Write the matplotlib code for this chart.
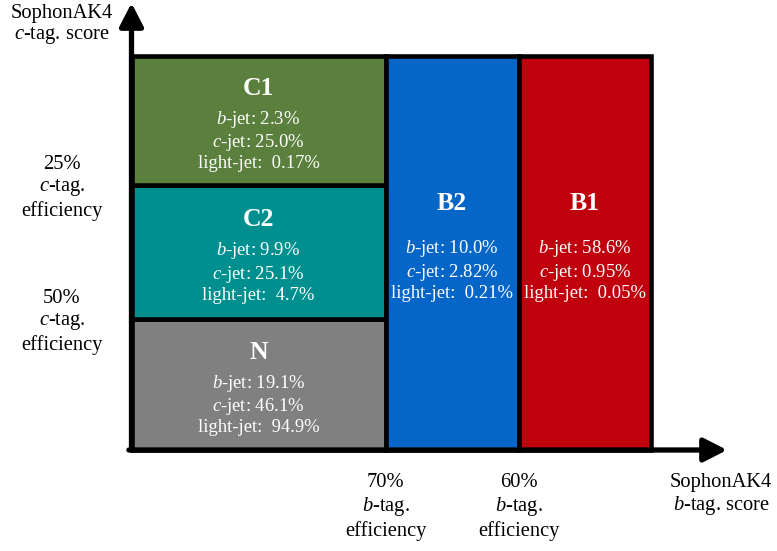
import matplotlib
matplotlib.use("Agg")
import matplotlib.pyplot as plt
import matplotlib.transforms as mtransforms
from matplotlib.patches import Rectangle

plt.rcParams['font.family'] = ['Liberation Serif', 'DejaVu Serif']
plt.rcParams['mathtext.fontset'] = 'custom'
plt.rcParams['mathtext.rm'] = 'Liberation Serif'
plt.rcParams['mathtext.it'] = 'Liberation Serif:italic'

# working-point thresholds (schematic, in fraction of score range)
b_cuts = [0.0, 0.489, 0.745, 1.0]      # 70% WP, 60% WP
c_cuts = [0.0, 0.3325, 0.6726, 1.0]    # 50% WP, 25% WP
b_cut_labels = ['70%', '60%']
c_cut_labels = ['50%', '25%']

# categories in the c-tag column (bottom to top), then b-tag columns
c_cats = ['N', 'C2', 'C1']
c_bjet = ['19.1%', '9.9%', '2.3%']
c_cjet = ['46.1%', '25.1%', '25.0%']
c_ljet = ['94.9%', '4.7%', '0.17%']
c_colors = ['#808080', '#008f8f', '#5b7f3c']

b_cats = ['B2', 'B1']
b_bjet = ['10.0%', '58.6%']
b_cjet = ['2.82%', '0.95%']
b_ljet = ['0.21%', '0.05%']
b_colors = ['#0566c8', '#c0000c']

W, H = 777, 551
fig = plt.figure(figsize=(W / 100, H / 100), dpi=100)
# axes origin at the arrows' corner, box spans [0,1]x[0,1]
x0, y0 = 131.5, 450.0
box_w, box_h = 651 - x0, y0 - 56
x_max = (727 - x0) / box_w
y_max = (y0 - 3) / box_h
ax = fig.add_axes([x0 / W, (H - y0) / H, (727 - x0) / W, (y0 - 3) / H])
ax.set_xlim(0, x_max)
ax.set_ylim(0, y_max)
ax.axis('off')

lw = 3.3
fs_title = 18.5
fs_body = 13.4
fs_lab = 14.8


def cell(x_lo, x_hi, y_lo, y_hi, color, name, bj, cj, lj, dt, db):
    ax.add_patch(Rectangle((x_lo, y_lo), x_hi - x_lo, y_hi - y_lo,
                           facecolor=color, edgecolor='black', lw=lw,
                           clip_on=False, zorder=2))
    xc = (x_lo + x_hi) / 2
    yc = (y_lo + y_hi) / 2
    tr = ax.transData + mtransforms.ScaledTranslation(0, -dt / 100, fig.dpi_scale_trans)
    ax.text(xc, yc, name, color='white', fontsize=fs_title, fontweight='bold',
            ha='center', va='center', transform=tr, zorder=3)
    tr = ax.transData + mtransforms.ScaledTranslation(0, -db / 100, fig.dpi_scale_trans)
    body = '$b$-jet: ' + bj + '\n$c$-jet: ' + cj + '\nlight-jet:  ' + lj
    ax.text(xc, yc, body, color='white', fontsize=fs_body, ha='center',
            va='center', linespacing=1.15, transform=tr, zorder=3)


for i, name in enumerate(c_cats):
    cell(b_cuts[0], b_cuts[1], c_cuts[i], c_cuts[i + 1], c_colors[i], name,
         c_bjet[i], c_cjet[i], c_ljet[i], -32, 20)
for j, name in enumerate(b_cats):
    cell(b_cuts[j + 1], b_cuts[j + 2], 0, 1, b_colors[j], name,
         b_bjet[j], b_cjet[j], b_ljet[j], -49, 17)

# axes arrows
arrow = dict(arrowstyle='-|>,head_length=0.7,head_width=0.36', lw=3.8,
             color='black', mutation_scale=20, shrinkA=0, shrinkB=0)
ax.annotate('', xy=(x_max, 0), xytext=(-0.005, 0), arrowprops=arrow, zorder=4)
ax.annotate('', xy=(0, y_max), xytext=(0, 0), arrowprops=arrow, zorder=4)

# axis titles
lx = (62 - x0) / box_w
ax.text(lx, (y0 - 25) / box_h, 'SophonAK4\n$c$-tag. score', fontsize=fs_lab,
        ha='center', va='center', linespacing=1.15, clip_on=False)
ax.text((721 - x0) / box_w, -(495 - y0) / box_h, 'SophonAK4\n$b$-tag. score',
        fontsize=fs_lab, ha='center', va='center', linespacing=1.15, clip_on=False)

# working-point labels
for k, lab in enumerate(c_cut_labels):
    ax.text(lx, c_cuts[k + 1] - 3 / box_h, lab + '\n$c$-tag.\nefficiency',
            fontsize=fs_lab, ha='center', va='center', linespacing=1.2,
            clip_on=False)
for k, lab in enumerate(b_cut_labels):
    ax.text(b_cuts[k + 1], -(507 - y0) / box_h, lab + '\n$b$-tag.\nefficiency',
            fontsize=fs_lab, ha='center', va='center', linespacing=1.2,
            clip_on=False)

fig.savefig('out.png', dpi=100)
